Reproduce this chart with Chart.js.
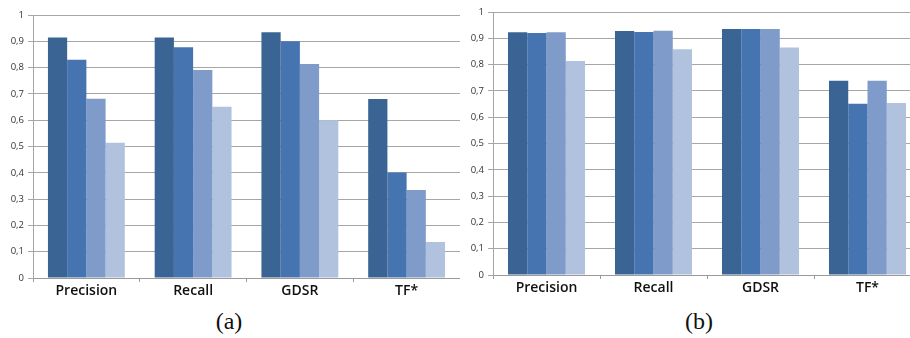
<!DOCTYPE html>
<html>
<head>
<meta charset="utf-8">
<script src="https://cdn.jsdelivr.net/npm/chart.js@4/dist/chart.umd.min.js"></script>
<style>
  html, body { margin: 0; padding: 0; background: #fff; width: 910px; height: 338px; overflow: hidden; position: relative; }
  .box { position: absolute; top: 0; height: 300px; }
  .cap { position: absolute; top: 308px; font-family: "Liberation Serif", "DejaVu Serif", serif; font-size: 24px; color: #111; transform: translateX(-50%); }
</style>
</head>
<body>
<div class="box" style="left:0;width:460px"><canvas id="chartA"></canvas></div>
<div class="box" style="left:460px;width:461px"><canvas id="chartB"></canvas></div>
<div class="cap" style="left:229px">(a)</div>
<div class="cap" style="left:699px">(b)</div>
<script>
var categories = ["Precision", "Recall", "GDSR", "TF*"];
var colors = ["#3a6494", "#4674b0", "#7e9bc9", "#b1c2de"];

// panel (a)
var a1 = [0.914, 0.914, 0.934, 0.681];
var a2 = [0.830, 0.877, 0.900, 0.401];
var a3 = [0.682, 0.791, 0.814, 0.335];
var a4 = [0.514, 0.651, 0.600, 0.137];

// panel (b)
var b1 = [0.923, 0.928, 0.935, 0.739];
var b2 = [0.920, 0.924, 0.935, 0.651];
var b3 = [0.923, 0.929, 0.935, 0.739];
var b4 = [0.814, 0.858, 0.865, 0.654];

var yTicks = [0, 0.1, 0.2, 0.3, 0.4, 0.5, 0.6, 0.7, 0.8, 0.9, 1];

function makeChart(id, series, padTop) {
  var ctx = document.getElementById(id).getContext("2d");
  return new Chart(ctx, {
    type: "bar",
    data: {
      labels: categories,
      datasets: series.map(function (s, i) {
        return { data: s, backgroundColor: colors[i], borderWidth: 0 };
      }),
    },
    options: {
      responsive: false,
      animation: false,
      devicePixelRatio: 1,
      layout: { padding: { top: padTop, right: 0, bottom: 0, left: 0 } },
      plugins: { legend: { display: false }, tooltip: { enabled: false } },
      datasets: { bar: { categoryPercentage: 0.72, barPercentage: 1.0 } },
      scales: {
        x: {
          grid: { display: true, drawOnChartArea: false, offset: true, color: "#9a9a9a", tickLength: 4 },
          border: { color: "#9a9a9a" },
          ticks: { color: "#111", font: { family: "Open Sans", size: 14, weight: "600" }, padding: 1 },
          afterFit: function (s) { s.height = 300 - padTop - 263; },
        },
        y: {
          min: 0,
          max: 1,
          afterBuildTicks: function (s) { s.ticks = yTicks.map(function (v) { return { value: v }; }); },
          grid: { color: "#a6a6a6", tickLength: 5 },
          border: { color: "#a6a6a6" },
          ticks: {
            color: "#333",
            font: { family: "Open Sans", size: 9.5 },
            padding: 4,
            callback: function (v) { return String(v).replace(".", ","); },
          },
          afterFit: function (s) { s.width = 33; },
        },
      },
    },
  });
}

document.getElementById("chartA").width = 460;
document.getElementById("chartA").height = 300;
document.getElementById("chartB").width = 461;
document.getElementById("chartB").height = 300;

makeChart("chartA", [a1, a2, a3, a4], 15);
makeChart("chartB", [b1, b2, b3, b4], 12);
</script>
</body>
</html>
